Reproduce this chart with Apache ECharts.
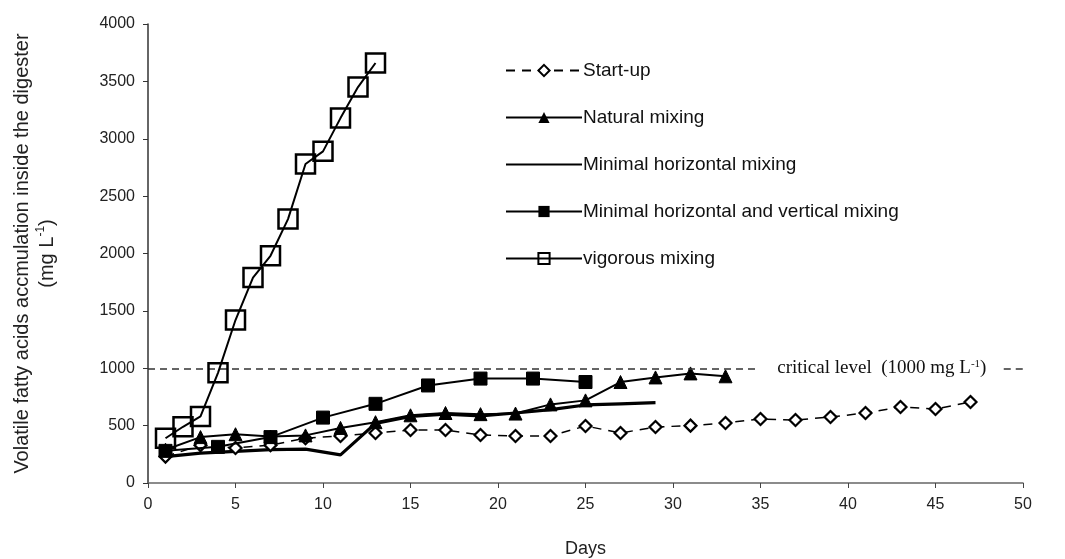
<!DOCTYPE html>
<html>
<head>
<meta charset="utf-8">
<script src="https://cdn.jsdelivr.net/npm/echarts@6/dist/echarts.min.js"></script>
<style>
html,body{margin:0;padding:0;background:#fff;}
#chart{width:1065px;height:559px;}
</style>
</head>
<body>
<div id="chart"></div>
<script>
// ---- data ----
const xTicks = [0,5,10,15,20,25,30,35,40,45,50];
const yTicks = [0,500,1000,1500,2000,2500,3000,3500,4000];

const startupDays = [1,3,5,7,9,11,13,15,17,19,21,23,25,27,29,31,33,35,37,39,41,43,45,47];
const startupVals = [230,330,305,330,390,410,436,462,462,418,410,410,497,436,488,500,523,558,549,575,610,662,645,706];

const naturalDays = [1,3,5,7,9,11,13,15,17,19,21,23,25,27,29,31,33];
const naturalVals = [290,400,425,405,415,480,530,590,610,600,605,685,720,880,920,955,930];

const minHorDays = [1,3,5,7,9,11,13,15,17,19,21,23,25,27,29];
const minHorVals = [230,260,275,290,295,245,520,580,600,585,610,640,680,690,700];

const minHVDays = [1,4,7,10,13,16,19,22,25];
const minHVVals = [280,315,400,570,690,850,910,910,880];

const vigDays = [1,2,3,4,5,6,7,8,9,10,11,12,13];
const vigVals = [390,490,580,960,1420,1790,1980,2300,2780,2890,3180,3450,3660];

const criticalLevel = 1000;
const critGapStart = 34.7, critGapEnd = 48.9;

const seriesNames = ['Start-up','Natural mixing','Minimal horizontal mixing','Minimal horizontal and vertical mixing','vigorous mixing'];

function pairs(d, v){ return d.map((x,i)=>[x, v[i]]); }

const chart = echarts.init(document.getElementById('chart'));
const font = 'Liberation Sans, Arial, sans-serif';
const serif = 'Liberation Serif, Times New Roman, serif';

chart.setOption({
  animation: false,
  backgroundColor: '#fff',
  grid: { left: 148, right: 42, top: 24, bottom: 76, containLabel: false, outerBoundsMode: 'none' },
  legend: {
    orient: 'vertical',
    left: 500,
    top: 56,
    itemWidth: 76,
    itemHeight: 14,
    itemGap: 28,
    textStyle: { fontFamily: font, fontSize: 19, color: '#111', padding: [0,0,0,-4] },
    data: seriesNames
  },
  xAxis: {
    type: 'value', min: 0, max: 50, interval: 5,
    name: 'Days', nameLocation: 'middle', nameGap: 57,
    nameTextStyle: { fontFamily: font, fontSize: 18, color: '#222' },
    axisLine: { lineStyle: { color: '#666', width: 1.5 } },
    axisTick: { show: true, inside: false, length: 5, lineStyle: { color: '#444' } },
    axisLabel: { fontFamily: font, fontSize: 16, color: '#222', margin: 14 },
    splitLine: { show: false }
  },
  yAxis: {
    type: 'value', min: 0, max: 4000, interval: 500,
    name: '{a|Volatile fatty acids accmulation inside the digester}\n{a|(mg L}{s|-1}{a|)}',
    nameLocation: 'middle', nameGap: 88, nameRotate: 90,
    nameTextStyle: {
      fontFamily: font, fontSize: 20, color: '#222', lineHeight: 25,
      rich: {
        a: { fontFamily: font, fontSize: 20, color: '#222', lineHeight: 25 },
        s: { fontFamily: font, fontSize: 12, color: '#222', verticalAlign: 'top', lineHeight: 20 }
      }
    },
    axisLine: { show: true, lineStyle: { color: '#333', width: 1.5 } },
    axisTick: { show: true, inside: false, length: 5, lineStyle: { color: '#333' } },
    axisLabel: { fontFamily: font, fontSize: 16, color: '#222', margin: 13, formatter: v => String(v) },
    splitLine: { show: false }
  },
  series: [
    {
      name: seriesNames[0], type: 'line', data: pairs(startupDays, startupVals),
      symbol: 'diamond', symbolSize: 12,
      lineStyle: { color: '#000', width: 1.5, type: [9,7] },
      itemStyle: { color: '#fff', borderColor: '#000', borderWidth: 2.2 },
      z: 3,
      markLine: {
        silent: true, symbol: 'none',
        lineStyle: { color: '#333', width: 1.6, type: [7,5] },
        label: {
          show: true, position: 'end', distance: 22,
          formatter: '{t|critical level  (1000 mg L}{s|-1}{t|)}',
          rich: {
            t: { fontFamily: serif, fontSize: 19, color: '#111' },
            s: { fontFamily: serif, fontSize: 11, color: '#111', verticalAlign: 'top' }
          }
        },
        data: [
          [{ coord: [0, criticalLevel] }, { coord: [critGapStart, criticalLevel] }],
          [{ coord: [critGapEnd, criticalLevel], label: { show: false } }, { coord: [50, criticalLevel] }]
        ]
      }
    },
    {
      name: seriesNames[1], type: 'line', data: pairs(naturalDays, naturalVals),
      symbol: 'triangle', symbolSize: 13,
      lineStyle: { color: '#000', width: 2 },
      itemStyle: { color: '#000', borderColor: '#000' },
      z: 4
    },
    {
      name: seriesNames[2], type: 'line', data: pairs(minHorDays, minHorVals),
      symbol: 'circle', showSymbol: false, symbolSize: 0,
      lineStyle: { color: '#000', width: 3.2 },
      itemStyle: { color: 'rgba(0,0,0,0)', borderWidth: 0 },
      z: 3
    },
    {
      name: seriesNames[3], type: 'line', data: pairs(minHVDays, minHVVals),
      symbol: 'rect', symbolSize: 13,
      lineStyle: { color: '#000', width: 2 },
      itemStyle: { color: '#000', borderColor: '#000' },
      z: 4
    },
    {
      name: seriesNames[4], type: 'line', data: pairs(vigDays, vigVals),
      symbol: 'rect', symbolSize: 19,
      lineStyle: { color: '#000', width: 2 },
      itemStyle: { color: 'rgba(255,255,255,0)', borderColor: '#000', borderWidth: 2.5 },
      z: 5
    }
  ]
});
</script>
</body>
</html>
